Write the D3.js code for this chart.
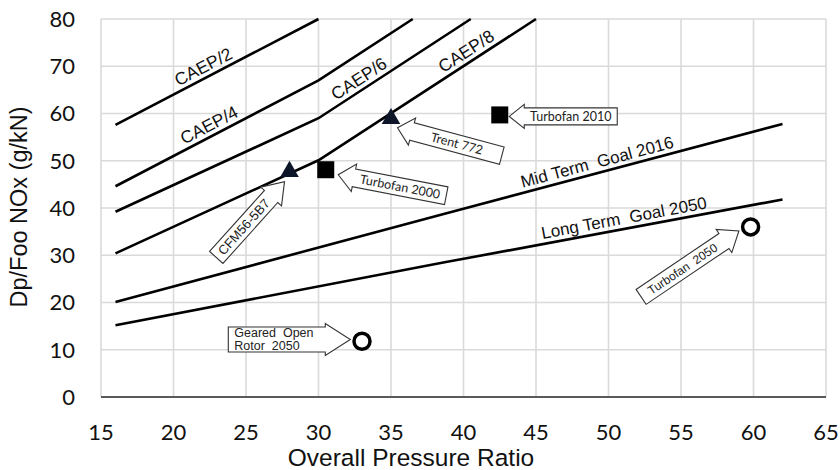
<!DOCTYPE html>
<html><head><meta charset="utf-8">
<script src="https://cdn.jsdelivr.net/npm/d3@7"></script>
<style>body{margin:0;background:#fff}svg{display:block}</style>
</head><body>
<script>
// ---- data ----
const xTicks = [15,20,25,30,35,40,45,50,55,60,65];
const yTicks = [0,10,20,30,40,50,60,70,80];
const caep2 = [[16,57.6],[30.0,80]];
const caep4 = [[16,44.6],[30,67],[36.5,80]];
const caep6 = [[16,39.2],[30,59.0],[40.5,80]];
const caep8 = [[16,30.4],[30,50.1],[45,80]];
const midTerm = [[16,20.1],[38.7,38.8],[62,57.8]];
const longTerm = [[16,15.2],[38.7,28.5],[62,41.8]];
const lineNames = ["CAEP/2","CAEP/4","CAEP/6","CAEP/8","Mid Term  Goal 2016","Long Term  Goal 2050"];
const triangles = [{name:"CFM56-5B7",x:28.0,y:47.7},{name:"Trent 772",x:35.0,y:58.9}];
const squares = [{name:"Turbofan 2000",x:30.5,y:48.1},{name:"Turbofan 2010",x:42.5,y:59.7}];
const circles = [{name:"Geared  Open\nRotor  2050",x:33.0,y:11.8},{name:"Turbofan  2050",x:59.8,y:36.0}];

const W=840,H=470;
const svg=d3.select("body").append("svg").attr("width",W).attr("height",H);
const x=d3.scaleLinear().domain([15,65]).range([101,826]);
const y=d3.scaleLinear().domain([0,80]).range([397,19]);

// grid
svg.append("g").selectAll("line").data(xTicks).join("line")
  .attr("x1",d=>x(d)).attr("x2",d=>x(d)).attr("y1",y(0)).attr("y2",y(80))
  .attr("stroke","#dadada").attr("stroke-width",1.6);
svg.append("g").selectAll("line").data(yTicks.filter(d=>d>0)).join("line")
  .attr("x1",x(15)).attr("x2",x(65)).attr("y1",d=>y(d)).attr("y2",d=>y(d))
  .attr("stroke","#dadada").attr("stroke-width",1.6);
svg.append("line").attr("x1",x(15)).attr("x2",x(65)).attr("y1",y(0)).attr("y2",y(0))
  .attr("stroke","#5a5a5a").attr("stroke-width",2);

// tick labels
svg.append("g").selectAll("text").data(yTicks).join("text")
  .attr("x",75).attr("y",d=>y(d)).attr("dy","0.36em").attr("text-anchor","end")
  .attr("font-family","Lato, 'Open Sans', sans-serif").attr("font-size",22).attr("fill","#111")
  .text(d=>d);
svg.append("g").selectAll("text").data(xTicks).join("text")
  .attr("x",d=>x(d)).attr("y",440).attr("text-anchor","middle")
  .attr("font-family","Lato, 'Open Sans', sans-serif").attr("font-size",22).attr("fill","#111")
  .text(d=>d);
svg.append("text").attr("x",411).attr("y",466).attr("text-anchor","middle")
  .attr("font-family","'Liberation Sans', Arial, sans-serif").attr("font-size",24.5).attr("fill","#111")
  .text("Overall Pressure Ratio");
svg.append("text").attr("transform","translate(27,207) rotate(-90)").attr("text-anchor","middle")
  .attr("font-family","'Liberation Sans', Arial, sans-serif").attr("font-size",23.5).attr("fill","#111")
  .text("Dp/Foo NOx (g/kN)");

// lines
const line=d3.line().x(d=>x(d[0])).y(d=>y(d[1]));
const series=[caep2,caep4,caep6,caep8,midTerm,longTerm];
svg.append("g").selectAll("path").data(series).join("path")
  .attr("d",line).attr("fill","none").attr("stroke","#000").attr("stroke-width",2.6);

// line labels (position on line in data coords, offset above)
const labelPos=[22.4,22.8,33.2,40.6,49.4,51.2];
const labelFS=[17.5,17.5,17.5,17.5,17,17];
lineNames.forEach((nm,i)=>{
  const s=series[i];
  const xv=labelPos[i];
  let seg=s.findIndex((p,j)=>j<s.length-1 && xv>=p[0] && xv<=s[j+1][0]);
  const p0=s[seg],p1=s[seg+1];
  const t=(xv-p0[0])/(p1[0]-p0[0]);
  const yv=p0[1]+t*(p1[1]-p0[1]);
  const ang=Math.atan2(y(p1[1])-y(p0[1]),x(p1[0])-x(p0[0]))*180/Math.PI;
  svg.append("text").attr("transform",`translate(${x(xv)},${y(yv)}) rotate(${ang}) translate(0,-5)`)
    .attr("text-anchor","middle").attr("font-family","'Liberation Sans', Arial, sans-serif")
    .attr("font-size",labelFS[i]).attr("fill","#111").style("white-space","pre").text(nm);
});

// callout arrows
function arrow(tx,ty,ang,dir,L,bw,hw,hl,label,font,fs){
  const g=svg.append("g").attr("transform",`translate(${tx},${ty}) rotate(${ang})`);
  const pts=[[-L,-bw],[-hl,-bw],[-hl,-hw],[0,0],[-hl,hw],[-hl,bw],[-L,bw]].map(p=>[p[0]*dir,p[1]]);
  g.append("polygon").attr("points",pts.map(p=>p.join(",")).join(" "))
    .attr("fill","#fff").attr("stroke","#333").attr("stroke-width",1.1);
  const lines=label.split("\n");
  if(lines.length===1){
    g.append("text").attr("x",dir*-(L+hl)/2).attr("y",0).attr("dy","0.35em").attr("text-anchor","middle")
      .attr("font-family",font).attr("font-size",fs).attr("fill","#222").style("white-space","pre").text(label);
  } else {
    lines.forEach((ln,k)=>{
      g.append("text").attr("x",dir*-L+6*dir).attr("y",(k-0.5)*13).attr("dy","0.35em")
        .attr("font-family",font).attr("font-size",fs).attr("fill","#222").style("white-space","pre").text(ln);
    });
  }
}
const arial="'Liberation Sans', Arial, sans-serif", cal="Lato, 'Open Sans', sans-serif";
arrow(x(triangles[0].x)-5,y(triangles[0].y)+10,-48,1,102,9,14,20,triangles[0].name,arial,13);
arrow(x(triangles[1].x)+6.5,y(triangles[1].y)+9,15,-1,108,9,14,15,triangles[1].name,cal,12.5);
arrow(x(squares[0].x)+12.5,y(squares[0].y)+5,11,-1,110,9,14,16,squares[0].name,cal,12.5);
arrow(x(squares[1].x)+9.5,y(squares[1].y)+1.5,0,-1,108,8.5,12,15,squares[1].name,cal,12.5);
arrow(x(circles[0].x)-11.7,y(circles[0].y)-1.7,0,1,122,12.5,16,25,circles[0].name,arial,12.5);
arrow(x(circles[1].x)-11.7,y(circles[1].y)+4,-34,1,118,9,14,18,circles[1].name,arial,12);

// markers
const tri=d3.symbol().type(d3.symbolTriangle).size(150);
svg.append("g").selectAll("path").data(triangles).join("path")
  .attr("transform",d=>`translate(${x(d.x)},${y(d.y)})`).attr("d",tri).attr("fill","#0d1628");
svg.append("g").selectAll("rect").data(squares).join("rect")
  .attr("x",d=>x(d.x)-8.5).attr("y",d=>y(d.y)-8.5).attr("width",17).attr("height",17).attr("fill","#000");
svg.append("g").selectAll("circle").data(circles).join("circle")
  .attr("cx",d=>x(d.x)).attr("cy",d=>y(d.y)).attr("r",8).attr("fill","#fff").attr("stroke","#000").attr("stroke-width",3.5);
</script>
</body></html>
